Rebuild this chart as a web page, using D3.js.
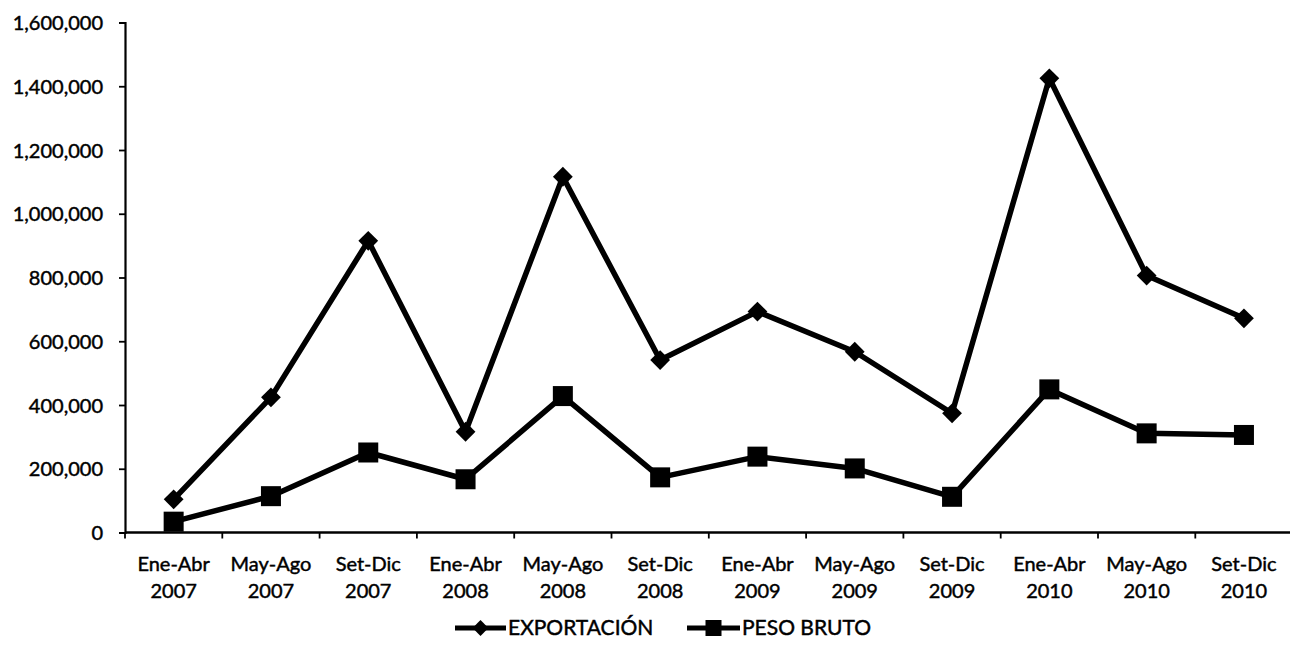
<!DOCTYPE html>
<html>
<head>
<meta charset="utf-8">
<script src="https://cdn.jsdelivr.net/npm/d3@7"></script>
<style>
  html, body { margin: 0; padding: 0; background: #fff; }
  svg text { font-family: Lato, "Open Sans", sans-serif; fill: #000; stroke: #000; stroke-width: 0.45px; }
</style>
</head>
<body>
<svg id="chart" width="1290" height="651"></svg>
<script>
const periods = ["Ene-Abr", "May-Ago", "Set-Dic", "Ene-Abr", "May-Ago", "Set-Dic",
                 "Ene-Abr", "May-Ago", "Set-Dic", "Ene-Abr", "May-Ago", "Set-Dic"];
const years = ["2007", "2007", "2007", "2008", "2008", "2008",
               "2009", "2009", "2009", "2010", "2010", "2010"];
const exportacion = [104000, 424000, 915000, 316000, 1116000, 541000,
                     693000, 567000, 374000, 1425000, 806000, 672000];
const pesoBruto = [34000, 114000, 251000, 167000, 428000, 173000,
                   238000, 201000, 112000, 449000, 311000, 306000];
const yTicks = [0, 200000, 400000, 600000, 800000, 1000000, 1200000, 1400000, 1600000];
const seriesNames = ["EXPORTACIÓN", "PESO BRUTO"];

(function () {
const svg = d3.select("#chart");
const mLeft = 125, mRight = 1292.6, mTop = 22.5, mBottom = 532.5;
const cats = periods.map((p, i) => i);

const x = d3.scaleBand().domain(cats).range([mLeft, mRight]).padding(0);
const y = d3.scaleLinear().domain([0, 1600000]).range([mBottom, mTop]);
const cx = i => x(i) + x.bandwidth() / 2;

// Y axis
const yAxis = svg.append("g")
  .attr("transform", `translate(${mLeft},0)`)
  .call(d3.axisLeft(y).tickValues(yTicks).tickFormat(d3.format(",")).tickSize(6).tickPadding(16));
yAxis.select(".domain").attr("stroke", "#000").attr("stroke-width", 2.2);
yAxis.selectAll(".tick line").attr("stroke", "#000").attr("stroke-width", 1.8);
yAxis.selectAll(".tick text").style("font-size", "20px").attr("dy", "0.35em");

// X axis
const xAxis = svg.append("g").attr("transform", `translate(0,${mBottom})`);
xAxis.append("line").attr("x1", mLeft).attr("x2", mRight).attr("y1", 0).attr("y2", 0)
  .attr("stroke", "#000").attr("stroke-width", 2.4);
xAxis.selectAll("line.tk").data(cats.concat([cats.length])).enter().append("line")
  .attr("class", "tk")
  .attr("x1", i => i < cats.length ? x(i) : mRight)
  .attr("x2", i => i < cats.length ? x(i) : mRight)
  .attr("y1", 0).attr("y2", 6)
  .attr("stroke", "#000").attr("stroke-width", 1.8);
const lbl = xAxis.selectAll("text.xl").data(cats).enter().append("text")
  .attr("class", "xl").attr("text-anchor", "middle").style("font-size", "20px");
lbl.append("tspan").attr("x", cx).attr("y", 38).text(i => periods[i]);
lbl.append("tspan").attr("x", cx).attr("y", 65).text(i => years[i]);

// Lines
const line = d3.line().x((d, i) => cx(i)).y(d => y(d));
[exportacion, pesoBruto].forEach(s => {
  svg.append("path").datum(s).attr("d", line)
    .attr("fill", "none").attr("stroke", "#000").attr("stroke-width", 5.5)
    .attr("stroke-linejoin", "round");
});

// Markers
const diamond = d3.symbol().type(d3.symbolDiamond2).size(250);
svg.selectAll("path.dm").data(exportacion).enter().append("path")
  .attr("class", "dm").attr("d", diamond)
  .attr("transform", (d, i) => `translate(${cx(i)},${y(d)})`).attr("fill", "#000");
svg.selectAll("rect.sq").data(pesoBruto).enter().append("rect")
  .attr("class", "sq")
  .attr("x", (d, i) => cx(i) - 10).attr("y", d => y(d) - 10)
  .attr("width", 20).attr("height", 20).attr("fill", "#000");

// Legend
const legY = 628;
const leg = svg.append("g");
const legItems = [
  { name: seriesNames[0], x0: 455, x1: 506, tx: 508, type: "diamond" },
  { name: seriesNames[1], x0: 687, x1: 740, tx: 742, type: "square" }
];
legItems.forEach(it => {
  leg.append("line").attr("x1", it.x0).attr("x2", it.x1).attr("y1", legY).attr("y2", legY)
    .attr("stroke", "#000").attr("stroke-width", 5);
  const mx = (it.x0 + it.x1) / 2;
  if (it.type === "diamond") {
    leg.append("path").attr("d", d3.symbol().type(d3.symbolDiamond2).size(160))
      .attr("transform", `translate(${mx},${legY})`).attr("fill", "#000");
  } else {
    leg.append("rect").attr("x", mx - 8).attr("y", legY - 8)
      .attr("width", 16).attr("height", 16).attr("fill", "#000");
  }
  leg.append("text").attr("x", it.tx).attr("y", legY).attr("dy", "0.35em")
    .style("font-size", "21px").text(it.name);
});
})();
</script>
</body>
</html>
